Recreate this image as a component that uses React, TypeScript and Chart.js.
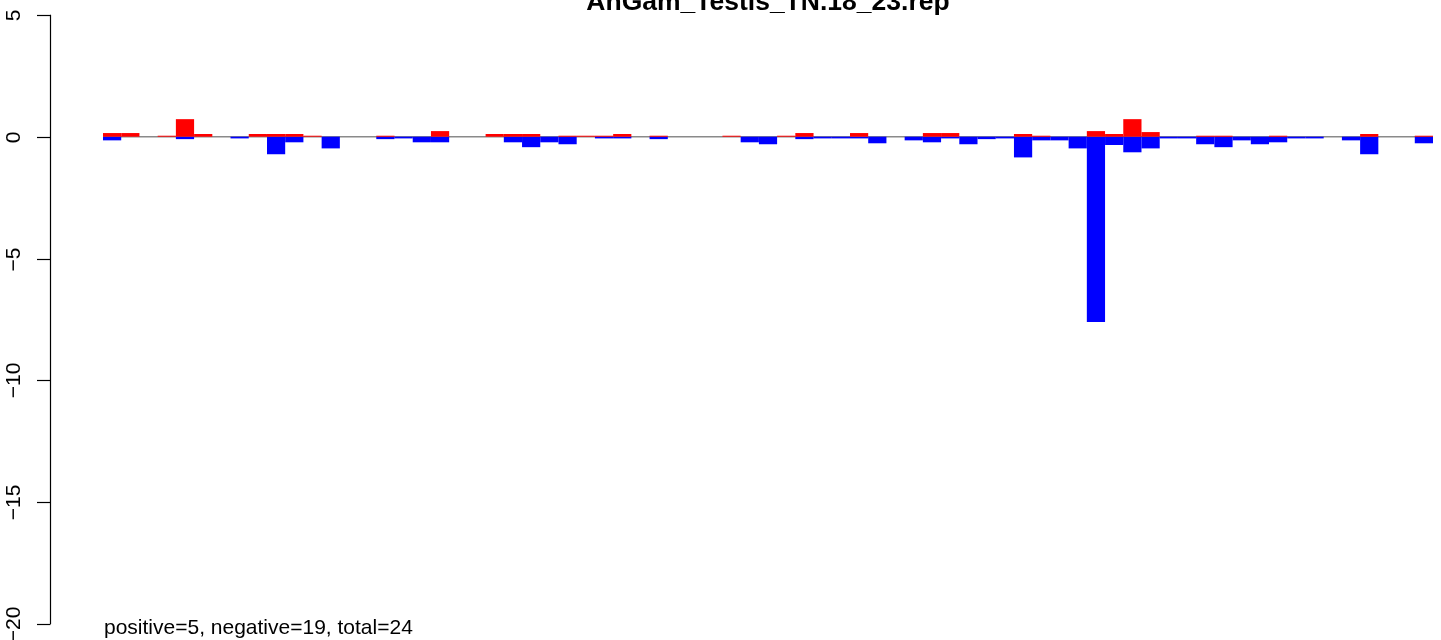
import React, { useEffect, useRef } from "react";
import { Chart, registerables } from "chart.js";

Chart.register(...registerables);

const chartTitle = "AnGam_Testis_TN.18_23.rep";
const footNote = "positive=5, negative=19, total=24";

const positiveValues = [
  0.15, 0.15, 0, 0.04, 0.72, 0.11, 0, 0, 0.11, 0.11,
  0.11, 0.04, 0, 0, 0, 0.04, 0, 0, 0.23, 0,
  0, 0.11, 0.11, 0.11, 0, 0.04, 0.04, 0.04, 0.11, 0,
  0.04, 0, 0, 0, 0.04, 0, 0, 0.04, 0.15, 0,
  0, 0.15, 0, 0, 0, 0.15, 0.15, 0, 0, 0,
  0.11, 0.04, 0, 0, 0.23, 0.11, 0.72, 0.19, 0, 0,
  0.04, 0.04, 0, 0, 0.04, 0, 0, 0, 0, 0.11,
  0, 0, 0.04,
];

const negativeValues = [
  -0.15, 0, 0, 0, -0.1, 0, 0, -0.07, 0, -0.72,
  -0.23, 0, -0.48, 0, 0, -0.1, -0.07, -0.23, -0.23, 0,
  0, 0, -0.23, -0.43, -0.23, -0.31, 0, -0.07, -0.07, 0,
  -0.1, 0, 0, 0, 0, -0.23, -0.31, 0, -0.1, -0.07,
  -0.07, -0.07, -0.27, 0, -0.15, -0.23, -0.07, -0.31, -0.1, -0.07,
  -0.85, -0.15, -0.15, -0.48, -7.6, -0.34, -0.64, -0.48, -0.07, -0.07,
  -0.31, -0.43, -0.15, -0.31, -0.23, -0.07, -0.07, 0, -0.15, -0.72,
  0, 0, -0.27,
];

const positions = positiveValues.map((_, i) => String(i + 1));

const yTickValues = [5, 0, -5, -10, -15, -20];
const yTickLabels = ["5", "0", "\u22125", "\u221210", "\u221215", "\u221220"];

const FONT = "'Liberation Sans', Arial, Helvetica, sans-serif";

const decorPlugin = {
  id: "decor",
  beforeDatasetsDraw(chart: any) {
    const ctx = chart.ctx;
    const y = chart.scales.y.getPixelForValue(0);
    const area = chart.chartArea;
    ctx.save();
    ctx.strokeStyle = "#8a8a8a";
    ctx.lineWidth = 1.6;
    ctx.beginPath();
    ctx.moveTo(area.left, y);
    ctx.lineTo(area.right, y);
    ctx.stroke();
    ctx.restore();
  },
  afterDraw(chart: any) {
    const ctx = chart.ctx;
    const ys = chart.scales.y;
    const axisX = 50;
    ctx.save();
    ctx.strokeStyle = "#000";
    ctx.lineWidth = 1.2;
    const top = ys.getPixelForValue(yTickValues[0]);
    const bottom = ys.getPixelForValue(yTickValues[yTickValues.length - 1]);
    ctx.beginPath();
    ctx.moveTo(axisX + 0.5, top);
    ctx.lineTo(axisX + 0.5, bottom);
    ctx.stroke();
    ctx.fillStyle = "#000";
    ctx.font = `21px ${FONT}`;
    ctx.textAlign = "center";
    ctx.textBaseline = "alphabetic";
    yTickValues.forEach((v, i) => {
      const py = Math.round(ys.getPixelForValue(v)) + 0.5;
      ctx.beginPath();
      ctx.moveTo(axisX - 13, py);
      ctx.lineTo(axisX + 0.5, py);
      ctx.stroke();
      ctx.save();
      ctx.translate(20, py);
      ctx.rotate(-Math.PI / 2);
      ctx.fillText(yTickLabels[i], 0, 0);
      ctx.restore();
    });
    ctx.font = `bold 26.5px ${FONT}`;
    ctx.textAlign = "center";
    ctx.fillText(chartTitle, 768, 10);
    ctx.font = `21px ${FONT}`;
    ctx.textAlign = "left";
    ctx.fillText(footNote, 104, 634);
    ctx.restore();
  },
};

const toBars = (vals: number[]) => vals.map((v) => (v === 0 ? null : v));

export default function App() {
  const ref = useRef<HTMLCanvasElement | null>(null);
  useEffect(() => {
    if (!ref.current) return;
    const zeroPx = 136.7;
    const pxPerUnit = 24.37;
    const common = {
      borderWidth: 0,
      barPercentage: 1,
      categoryPercentage: 1,
      grouped: false,
      inflateAmount: 0,
    };
    const chart = new Chart(ref.current, {
      type: "bar",
      data: {
        labels: positions,
        datasets: [
          { label: "positive", data: toBars(positiveValues), backgroundColor: "#ff0000", ...common } as any,
          { label: "negative", data: toBars(negativeValues), backgroundColor: "#0000ff", ...common } as any,
        ],
      },
      options: {
        animation: false,
        responsive: false,
        maintainAspectRatio: false,
        layout: { padding: { left: 103, right: 8, top: 0, bottom: 0 } },
        plugins: {
          legend: { display: false },
          tooltip: { enabled: false },
          title: { display: false },
        },
        scales: {
          x: {
            type: "category",
            display: false,
            offset: true,
            grid: { display: false },
          },
          y: {
            display: false,
            min: -(640 - zeroPx) / pxPerUnit,
            max: zeroPx / pxPerUnit,
            grid: { display: false },
          },
        },
      },
      plugins: [decorPlugin],
    });
    return () => chart.destroy();
  }, []);
  return (
    <div style={{ position: "fixed", left: 0, top: 0, width: 1441, height: 640, background: "#fff" }}>
      <canvas ref={ref} width={1441} height={640} style={{ display: "block" }} />
    </div>
  );
}
